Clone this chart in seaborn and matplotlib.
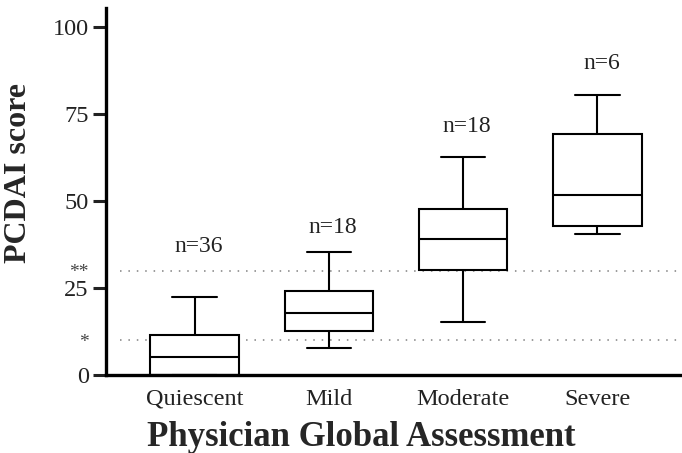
import numpy as np
import pandas as pd
import matplotlib
matplotlib.use('Agg')
import matplotlib.pyplot as plt
import seaborn as sns
from matplotlib.ticker import FixedLocator, FixedFormatter

# Box summaries: min, Q1, median, Q3, max
groups = ['Quiescent', 'Mild', 'Moderate', 'Severe']
low = [0.0, 7.7, 15.3, 40.5]
q1 = [0.0, 12.6, 30.2, 42.9]
median = [5.3, 17.7, 39.0, 51.7]
q3 = [11.4, 24.1, 47.8, 69.2]
high = [22.5, 35.3, 62.7, 80.5]
n_labels = ['n=36', 'n=18', 'n=18', 'n=6']
n_label_y = [36.9, 42.4, 71.3, 89.6]
thresholds = [10, 30]
threshold_labels = ['*', '**']

# Five values per group give exactly these quartiles with linear interpolation
rows = []
for i, g in enumerate(groups):
    for v in (low[i], q1[i], median[i], q3[i], high[i]):
        rows.append({'group': g, 'score': v})
df = pd.DataFrame(rows)

sns.set_style('ticks')
plt.rcParams['font.family'] = ['Liberation Serif', 'DejaVu Serif']

fig = plt.figure(figsize=(6.82, 4.53), dpi=100)
ax = fig.add_axes([106 / 682, 78 / 453, 576 / 682, 367 / 453])

line_kw = dict(color='black', linewidth=1.5)
sns.boxplot(data=df, x='group', y='score', order=groups, whis=np.inf,
            width=0.66, color='white', linecolor='black', linewidth=1.5,
            ax=ax,
            boxprops=dict(facecolor='white', edgecolor='black', linewidth=1.5),
            medianprops=line_kw, whiskerprops=line_kw, capprops=line_kw)

# dotted reference lines for the * and ** cut-offs
for y in thresholds:
    ax.axhline(y, xmin=0.024, xmax=1, color='#808080', linewidth=1.1,
               linestyle=(0, (1, 4.5)), zorder=0)

for i, (lab, y) in enumerate(zip(n_labels, n_label_y)):
    ax.text(i + 0.03, y, lab, ha='center', va='center',
            fontsize=17, color='#222222')

ax.set_xlim(-0.66, 3.63)
ax.set_ylim(0, 105.5)
ax.set_yticks([0, 25, 50, 75, 100])
ax.yaxis.set_minor_locator(FixedLocator(thresholds))
ax.yaxis.set_minor_formatter(FixedFormatter(threshold_labels))
ax.tick_params(axis='y', which='major', length=9.5, width=2.2, pad=3,
               labelsize=17.5, colors='#222222')
ax.tick_params(axis='y', which='minor', length=0, pad=12.5, labelsize=14,
               labelcolor='#444444')
ax.tick_params(axis='x', length=0, pad=10, labelsize=17.5, labelcolor='#222222')

sns.despine(ax=ax)
for s in ('left', 'bottom'):
    ax.spines[s].set_linewidth(2.4)
    ax.spines[s].set_color('black')

ax.set_xlabel('Physician Global Assessment', fontsize=25, fontweight='bold')
ax.set_ylabel('PCDAI score', fontsize=23, fontweight='bold')
ax.xaxis.set_label_coords(0.444, -0.125)
ax.yaxis.set_label_coords(-0.127, 0.55)

fig.savefig('out.png', dpi=100)
